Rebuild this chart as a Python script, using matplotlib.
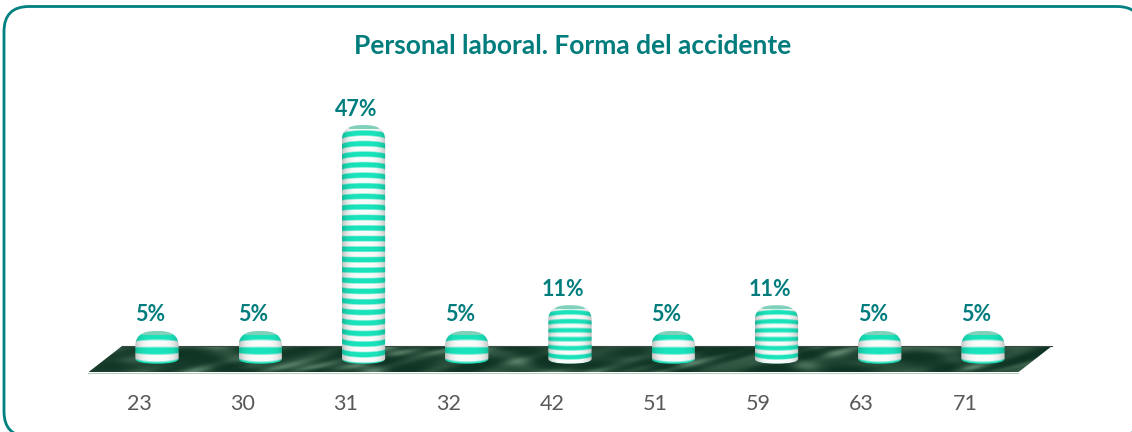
import numpy as np
import matplotlib
matplotlib.use("Agg")
import matplotlib.pyplot as plt
from matplotlib.patches import FancyBboxPatch, PathPatch, Polygon
from matplotlib.path import Path

# Datos del grafico
categorias = ["23", "30", "31", "32", "42", "51", "59", "63", "71"]
casos = [1, 1, 9, 1, 2, 1, 2, 1, 1]
total = sum(casos)
porcentajes = [100 * c / total for c in casos]
titulo = "Personal laboral. Forma del accidente"

TEAL = "#007C7C"
FUENTE = ["Lato", "DejaVu Sans"]
W, H = 1132, 432
PX_POR_PUNTO = 4.89
# La textura se estira distinto segun la altura de la barra
PERIODO_RAYA = {1: 11.0, 2: 7.6, 9: 10.2}


def textura_suelo(ancho, alto):
    # Marmol verde oscuro hecho con senos, sin azar
    x, y = np.meshgrid(np.arange(ancho), np.arange(alto))
    v = (np.sin(x / 17 + 2.5 * np.sin(y / 6 + x / 41)) + np.sin(x / 37 - y / 4.5 + 1.8 * np.sin(x / 23))
         + 0.6 * np.sin(x / 7.3 + y / 2.7 + 3 * np.sin(x / 57 + y / 9)))
    v = (v - v.min()) / (v.max() - v.min())
    v = v ** 2.2
    oscuro = np.array([16, 52, 36])
    claro = np.array([90, 130, 106])
    return (oscuro + (claro - oscuro) * v[..., None]).astype(np.uint8)


def textura_barra(ancho, alto, periodo):
    # Rayas blancas y turquesa con sombreado cilindrico
    u = np.linspace(-0.98, 0.98, ancho)
    filas = np.arange(alto)[:, None]
    t = filas / max(alto - 1, 1)
    perfil = np.sqrt(1 - u ** 2)[None, :]
    curva = (-4 + 8 * t) * perfil
    fase = ((alto - 1 - filas) + curva) / periodo - 0.477
    raya = 0.5 + 0.5 * np.sin(2 * np.pi * fase)
    raya = np.clip((raya - 0.5) * 2.2 + 0.5, 0, 1)[..., None]
    blanco = np.array([250, 252, 251])
    turquesa = np.array([26, 228, 188])
    borde = np.abs(u) ** 4
    gris = blanco * (1 - 0.25 * borde)[None, :, None]
    verde = turquesa * (1 - 0.2 * borde)[None, :, None]
    img = gris * raya + verde * (1 - raya)
    # Tapa superior: elipse fina gris verdosa
    tapa = 4.0 * perfil
    mascara = (filas < tapa)[..., None]
    img = np.where(mascara, np.array([128, 208, 186]), img)
    return np.clip(img, 0, 255).astype(np.uint8)


def contorno_barra(x0, x1, y0, y1, rx, ry, rb):
    # Contorno con hombros redondeados arriba y base eliptica
    xm = (x0 + x1) / 2
    verts = [(x0, y0 + rb), (x0, y1 - ry), (x0, y1), (x0 + rx, y1), (x1 - rx, y1), (x1, y1), (x1, y1 - ry),
             (x1, y0 + rb), (x1, y0), (xm, y0), (x0, y0), (x0, y0 + rb), (x0, y0 + rb)]
    codes = [Path.MOVETO, Path.LINETO, Path.CURVE3, Path.CURVE3, Path.LINETO, Path.CURVE3, Path.CURVE3,
             Path.LINETO, Path.CURVE3, Path.CURVE3, Path.CURVE3, Path.CURVE3, Path.CLOSEPOLY]
    return Path(verts, codes)


fig = plt.figure(figsize=(W / 100, H / 100), dpi=100, facecolor="white")

# Fondo en pixeles: marco redondeado y suelo
fondo = fig.add_axes([0, 0, 1, 1])
fondo.set_xlim(0, W)
fondo.set_ylim(H, 0)
fondo.axis("off")
marco = FancyBboxPatch((29, 31.5), 1088, 380, boxstyle="round,pad=25,rounding_size=25",
                       fc="white", ec="#008080", lw=2.0, clip_on=False, zorder=-1)
fondo.add_patch(marco)

suelo = Polygon([(88, 372.5), (1018, 372.5), (1052, 346), (122, 346)], closed=True, fc="none", ec="none")
fondo.add_patch(suelo)
im = fondo.imshow(textura_suelo(964, 27), extent=(88, 1052, 372.5, 346), aspect="auto", interpolation="bilinear")
im.set_clip_path(suelo)
fondo.plot([88, 1018], [372.8, 372.8], color="#b9cdbf", lw=0.8)
fondo.plot([122, 1052], [346, 346], color="#3a4a42", lw=0.8)
fondo.set_xlim(0, W)
fondo.set_ylim(H, 0)

fig.text(572.5 / W, 1 - 46 / H, titulo, ha="center", va="center", fontsize=19, fontweight="bold",
         color=TEAL, family=FUENTE)

# Ejes del grafico: y=0 a 356.7 px, con escala comun para las barras
ax_izq, ax_der, ax_arriba, ax_abajo = 87.4, 1016.6, 112.2, 372.0
ax = fig.add_axes([ax_izq / W, 1 - ax_abajo / H, (ax_der - ax_izq) / W, (ax_abajo - ax_arriba) / H])
ax.patch.set_alpha(0)
for s in ax.spines.values():
    s.set_visible(False)
y_min = -(ax_abajo - 356.7) / PX_POR_PUNTO

ANCHO = 0.42
DESPLAZA = 0.174
BAJO = -7.0 / PX_POR_PUNTO
for i, (c, v) in enumerate(zip(casos, porcentajes)):
    x0, x1 = i + DESPLAZA - ANCHO / 2, i + DESPLAZA + ANCHO / 2
    alto_px = int(round((v - BAJO) * PX_POR_PUNTO))
    contorno = contorno_barra(x0, x1, BAJO, v, 0.19, 15 / PX_POR_PUNTO, 5 / PX_POR_PUNTO)
    clip = PathPatch(contorno, transform=ax.transData, fc="none", ec="none")
    ax.add_patch(clip)
    barra = ax.imshow(textura_barra(43, alto_px, PERIODO_RAYA[c]), extent=(x0, x1, BAJO, v), aspect="auto",
                      interpolation="bilinear", zorder=3)
    barra.set_clip_path(clip)
    ax.annotate(f"{v:.0f}%", (i + 0.106, v), xytext=(0, 11.5), textcoords="offset points", ha="center", va="center",
                fontsize=15.5, fontweight="bold", color=TEAL, family=FUENTE, zorder=4)

ax.set_xlim(-0.5, 8.5)
ax.set_ylim(y_min, 50)
ax.set_yticks([])
ax.set_xticks(range(len(categorias)))
ax.set_xticklabels(categorias, fontsize=15.5, color="#595959", family=FUENTE)
ax.tick_params(axis="x", length=0, pad=16)

fig.savefig("out.png", dpi=100)
